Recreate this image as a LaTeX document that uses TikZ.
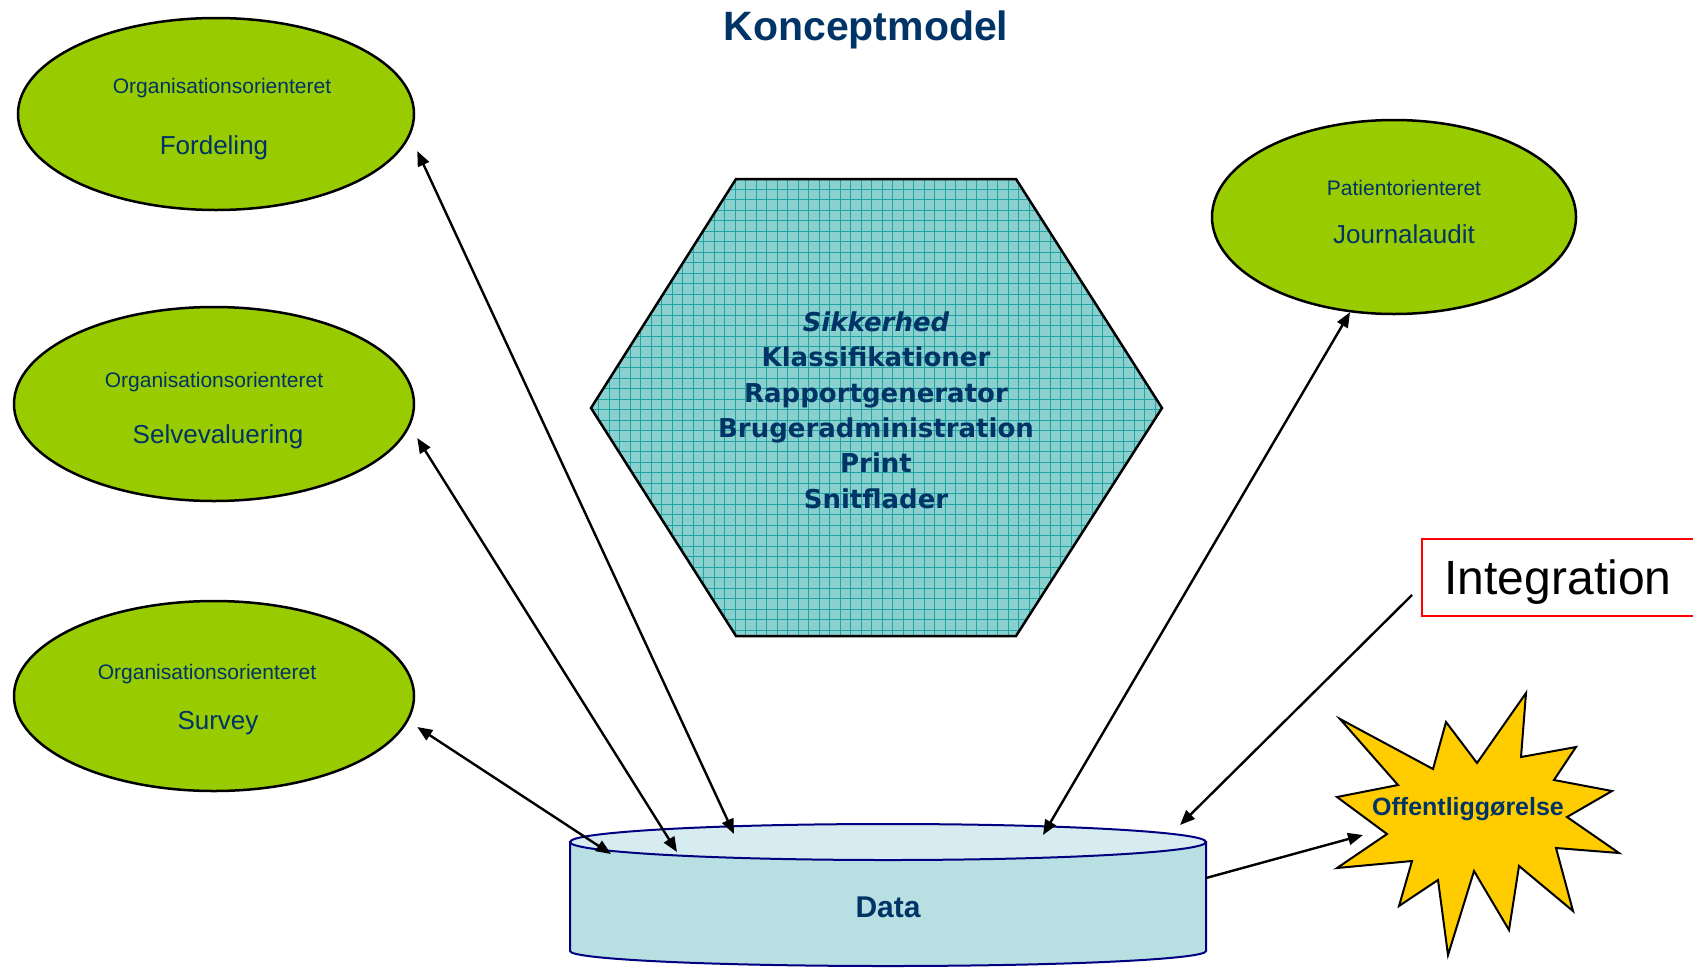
\documentclass[tikz,border=0pt]{standalone}
\usepackage{fontspec}
\setmainfont{Liberation Sans}
\newfontfamily\dejavu{DejaVu Sans}
\usetikzlibrary{arrows.meta,shapes.geometric,calc}
\definecolor{navy}{RGB}{0,51,102}
\definecolor{lgreen}{RGB}{153,204,0}
\definecolor{hexfill}{RGB}{138,208,206}
\definecolor{hexgrid}{RGB}{32,164,164}
\definecolor{cylbody}{RGB}{184,223,226}
\definecolor{cyltop}{RGB}{214,236,240}
\definecolor{cylline}{RGB}{0,0,128}
\definecolor{starfill}{RGB}{255,204,0}
\begin{document}
\begin{tikzpicture}[x=1pt,y=-1pt,
 ell/.style={ellipse, draw=black, line width=2.5pt, fill=lgreen, inner sep=0pt},
 smalltxt/.style={anchor=base, text=navy, font=\fontsize{21}{25}\selectfont},
 bigtxt/.style={anchor=base, text=navy, font=\fontsize{26}{31}\selectfont},
 link/.style={line width=2.4pt, {Triangle[length=15pt,width=12pt]}-{Triangle[length=15pt,width=12pt]}},
 onelink/.style={line width=2.4pt, -{Triangle[length=15pt,width=12pt]}},
 gridline/.style={draw=hexgrid, line width=1pt},
]
\useasboundingbox (0,0) rectangle (1693,967);

% title
\node[text=navy, font=\bfseries\fontsize{41}{49}\selectfont] (title) at (866,30) {Konceptmodel};

% ellipses
\node[ell, minimum width=396pt, minimum height=192pt] (ford) at (216,114) {};
\node[smalltxt] at (222,93) {Organisationsorienteret};
\node[bigtxt] at (214,154) {Fordeling};

\node[ell, minimum width=400pt, minimum height=194pt] (selv) at (214,404) {};
\node[smalltxt] at (214,387) {Organisationsorienteret};
\node[bigtxt] at (218,443) {Selvevaluering};

\node[ell, minimum width=400pt, minimum height=190pt] (surv) at (214,696) {};
\node[smalltxt] at (207,679) {Organisationsorienteret};
\node[bigtxt] at (218,729) {Survey};

\node[ell, minimum width=364pt, minimum height=194pt] (jour) at (1394,217) {};
\node[smalltxt] at (1404,195) {Patientorienteret};
\node[bigtxt] at (1404,243) {Journalaudit};

% hexagon
\fill[hexfill] (736,179) -- (1016,179) -- (1162,408) -- (1016,636) -- (736,636) -- (591,408) -- cycle;
\begin{scope}
\clip (736,179) -- (1016,179) -- (1162,408) -- (1016,636) -- (736,636) -- (591,408) -- cycle;
\draw[gridline, step=10.5pt] (580,170) grid (1170,645);
\end{scope}
\draw[line width=2.5pt, line join=miter] (736,179) -- (1016,179) -- (1162,408) -- (1016,636) -- (736,636) -- (591,408) -- cycle;
\node[text=navy, align=center, font=\dejavu\bfseries\fontsize{26}{35.4}\selectfont] (core) at (876,410)
 {{\itshape Sikkerhed}\\Klassifikationer\\Rapportgenerator\\Brugeradministration\\Print\\Snitflader};

% cylinder
\filldraw[fill=cylbody, draw=cylline, line width=2pt] (570,842) -- (570,951) arc[start angle=180, end angle=360, x radius=318pt, y radius=15pt] -- (1206,842) -- cycle;
\filldraw[fill=cyltop, draw=cylline, line width=2pt] (888,842) ellipse [x radius=318pt, y radius=18pt];
\node[text=navy, font=\bfseries\fontsize{30}{36}\selectfont] (data) at (888,907) {Data};

% star
\filldraw[fill=starfill, draw=black, line width=2pt, line join=miter]
 (1340,719) -- (1433,769) -- (1446,722) -- (1477,763) -- (1526,693) -- (1521,757) -- (1576,747) -- (1554,780)
 -- (1612,791) -- (1567,817) -- (1619,853) -- (1556,848) -- (1573,911) -- (1519,866) -- (1509,930) -- (1474,871)
 -- (1448,955) -- (1438,880) -- (1399,906) -- (1412,861) -- (1337,868) -- (1387,834) -- (1337,797) -- (1398,785) -- cycle;
\node[text=navy, font=\bfseries\fontsize{25}{30}\selectfont] (pub) at (1468,809) {Offentliggørelse};

% integration box
\node[draw=red, line width=2pt, anchor=north west, minimum width=280pt, minimum height=77pt, inner sep=0pt,
 text height=34pt, text depth=0pt, font=\fontsize{48}{56}\selectfont] (integ) at (1421,538) {\hspace*{-8pt}Integration};

% connectors
\coordinate (f1) at ($(ford.east)+(2,37)$);
\coordinate (f2) at ($(data)+(-154,-73)$);
\coordinate (s1) at ($(selv.east)+(2,34)$);
\coordinate (s2) at ($(data)+(-211,-55)$);
\coordinate (u1) at ($(surv.east)+(2,31)$);
\coordinate (u2) at ($(data)+(-277,-53)$);
\coordinate (j1) at ($(jour.south)+(-44,-3)$);
\coordinate (j2) at ($(data)+(155,-72)$);
\coordinate (i1) at ($(integ.west)+(-9,17.5)$);
\coordinate (i2) at ($(data)+(292,-82)$);
\coordinate (p1) at ($(data)+(318,-29)$);
\coordinate (p2) at ($(pub)+(-105,26)$);
\draw[link] (f1) -- (f2);
\draw[link] (s1) -- (s2);
\draw[link] (u1) -- (u2);
\draw[link] (j1) -- (j2);
\draw[onelink] (i1) -- (i2);
\draw[onelink] (p1) -- (p2);
\end{tikzpicture}
\end{document}
